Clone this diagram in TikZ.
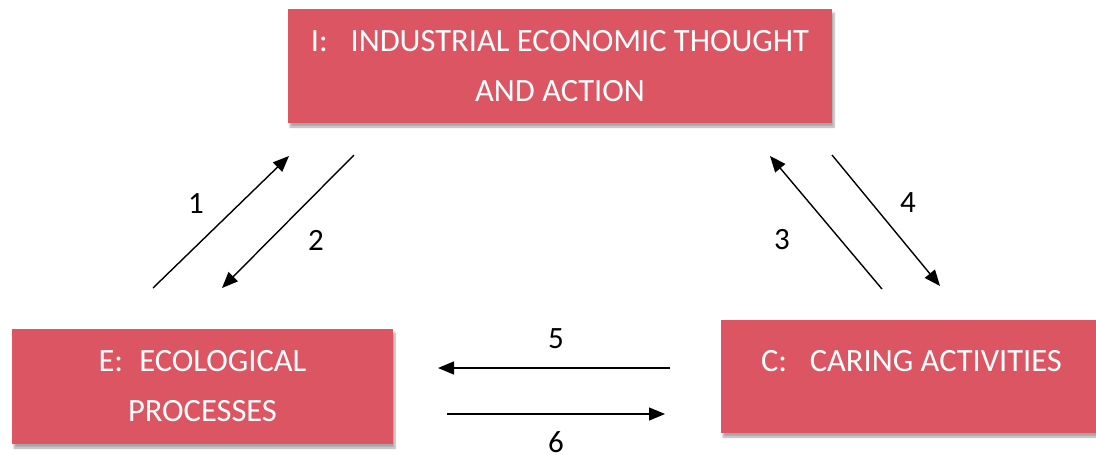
\documentclass[tikz,border=0pt]{standalone}
\usepackage{fontspec}
\setmainfont{Carlito}
\usetikzlibrary{positioning}
\usetikzlibrary{arrows.meta}
\usetikzlibrary{shadows.blur}
\definecolor{boxred}{RGB}{219,85,98}
\tikzstyle{block} = [rectangle, fill=boxred, text=white, align=center, inner sep=0pt,
  font=\fontsize{32.5}{50}\selectfont,
  blur shadow={shadow xshift=2pt, shadow yshift=-4pt, shadow blur steps=6, shadow opacity=35}]
\tikzstyle{coord} = [coordinate]
\tikzstyle{flow} = [-{Triangle[length=16pt,width=13pt]}, line width=1.4pt]
\tikzstyle{num} = [font=\fontsize{31}{31}\selectfont, inner sep=0pt]

\begin{document}
\begin{tikzpicture}[x=1pt,y=-1pt]
    \useasboundingbox (0,0) rectangle (1096,455);
    % the three sectors
    \node [block, minimum width=544pt, minimum height=114pt] (ind) at (560,66)
        {I:\hspace{0.7em}INDUSTRIAL ECONOMIC THOUGHT\\AND ACTION};
    \node [block, minimum width=381pt, minimum height=115pt] (eco) at (202.5,386.5)
        {E:\hspace{0.5em}ECOLOGICAL\\PROCESSES};
    \node [block, minimum width=381pt, minimum height=113pt] (car) at (911.5,376.5)
        {C:\hspace{0.7em}CARING ACTIVITIES\\[-18pt]\mbox{}};

    % ends of the flows
    \coordinate (e1) at (153,288);  \coordinate (i1) at (289,156);
    \coordinate (i2) at (354,155);  \coordinate (e2) at (222,288);
    \coordinate (c3) at (882,289);  \coordinate (i3) at (770,156);
    \coordinate (i4) at (832,155);  \coordinate (c4) at (940,286);
    \coordinate (c5) at (670,368);  \coordinate (e5) at (438,368);
    \coordinate (e6) at (447,414);  \coordinate (c6) at (665,414);

    \draw [flow] (e1) -- (i1);
    \draw [flow] (i2) -- (e2);
    \draw [flow] (c3) -- (i3);
    \draw [flow] (i4) -- (c4);
    \draw [flow] (c5) -- (e5);
    \draw [flow] (e6) -- (c6);

    \node [num] (n1) at (196,204) {1};
    \node [num] (n2) at (316,240) {2};
    \node [num] (n3) at (782,240) {3};
    \node [num] (n4) at (908,203) {4};
    \node [num] (n5) at (556,339) {5};
    \node [num] (n6) at (556,442) {6};
\end{tikzpicture}
\end{document}
